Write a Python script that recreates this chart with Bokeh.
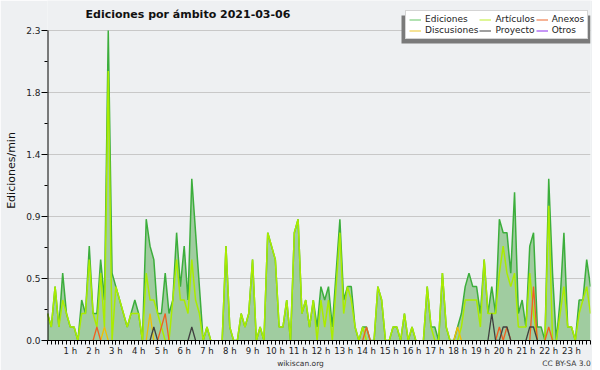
from bokeh.plotting import figure
from bokeh.models import (FixedTicker, Legend, LegendItem, Label, BoxAnnotation,
                          LinearAxis, CustomJSTickFormatter, PrintfTickFormatter)
from bokeh.embed import file_html
from bokeh.resources import INLINE

# ---- data: 10-minute slots (0..143) of 2021-03-06, edits per minute ----
hours = list(range(1, 24))
y_ticks = [0.0, 0.46, 0.92, 1.38, 1.84, 2.3]

ediciones = [
    0.2, 0.1, 0.4, 0.1, 0.5, 0.2,   # 0 h
    0.1, 0.1, 0.0, 0.3, 0.2, 0.7,   # 1 h
    0.2, 0.2, 0.6, 0.3, 2.3, 0.5,   # 2 h
    0.4, 0.3, 0.2, 0.1, 0.2, 0.3,   # 3 h
    0.2, 0.0, 0.9, 0.7, 0.6, 0.2,   # 4 h
    0.2, 0.5, 0.2, 0.3, 0.8, 0.4,   # 5 h
    0.7, 0.3, 1.2, 0.8, 0.4, 0.0,   # 6 h
    0.1, 0.0, 0.0, 0.0, 0.0, 0.7,   # 7 h
    0.1, 0.0, 0.0, 0.2, 0.1, 0.2,   # 8 h
    0.6, 0.0, 0.1, 0.0, 0.8, 0.7,   # 9 h
    0.6, 0.1, 0.1, 0.3, 0.0, 0.8,   # 10 h
    0.9, 0.2, 0.3, 0.1, 0.3, 0.1,   # 11 h
    0.4, 0.3, 0.4, 0.1, 0.5, 0.9,   # 12 h
    0.3, 0.4, 0.4, 0.1, 0.0, 0.1,   # 13 h
    0.1, 0.0, 0.0, 0.4, 0.3, 0.0,   # 14 h
    0.0, 0.1, 0.1, 0.0, 0.2, 0.0,   # 15 h
    0.1, 0.0, 0.0, 0.0, 0.4, 0.1,   # 16 h
    0.1, 0.0, 0.5, 0.1, 0.0, 0.0,   # 17 h
    0.1, 0.2, 0.4, 0.5, 0.4, 0.4,   # 18 h
    0.2, 0.6, 0.2, 0.4, 0.2, 0.9,   # 19 h
    0.8, 0.8, 0.5, 1.1, 0.2, 0.3,   # 20 h
    0.1, 0.7, 0.8, 0.1, 0.1, 0.0,   # 21 h
    1.2, 0.5, 0.0, 0.3, 0.8, 0.1,   # 22 h
    0.1, 0.0, 0.3, 0.3, 0.6, 0.4,   # 23 h
]
articulos = [
    0.2, 0.1, 0.4, 0.1, 0.3, 0.2,
    0.1, 0.1, 0.0, 0.2, 0.2, 0.6,
    0.2, 0.1, 0.5, 0.1, 2.0, 0.0,
    0.4, 0.3, 0.2, 0.1, 0.2, 0.2,
    0.2, 0.0, 0.5, 0.3, 0.3, 0.2,
    0.1, 0.0, 0.0, 0.3, 0.6, 0.3,
    0.3, 0.2, 0.6, 0.3, 0.2, 0.0,
    0.1, 0.0, 0.0, 0.0, 0.0, 0.7,
    0.1, 0.0, 0.0, 0.2, 0.1, 0.2,
    0.6, 0.0, 0.1, 0.0, 0.8, 0.7,
    0.6, 0.1, 0.1, 0.3, 0.0, 0.8,
    0.9, 0.2, 0.3, 0.1, 0.3, 0.0,
    0.3, 0.1, 0.3, 0.0, 0.4, 0.8,
    0.2, 0.4, 0.3, 0.1, 0.0, 0.1,
    0.0, 0.0, 0.0, 0.4, 0.3, 0.0,
    0.0, 0.1, 0.1, 0.0, 0.2, 0.0,
    0.1, 0.0, 0.0, 0.0, 0.4, 0.1,
    0.0, 0.0, 0.5, 0.1, 0.0, 0.0,
    0.0, 0.1, 0.3, 0.3, 0.3, 0.3,
    0.1, 0.6, 0.2, 0.2, 0.2, 0.5,
    0.7, 0.5, 0.4, 0.5, 0.1, 0.1,
    0.1, 0.5, 0.2, 0.0, 0.0, 0.0,
    1.0, 0.0, 0.0, 0.2, 0.4, 0.1,
    0.1, 0.0, 0.2, 0.3, 0.4, 0.2,
]
anexos = [0.0] * 144
for i, v in [(13, 0.1), (30, 0.1), (31, 0.2), (84, 0.1), (119, 0.1),
             (121, 0.1), (128, 0.4), (132, 0.1)]:
    anexos[i] = v
discusiones = [0.0] * 144
for i, v in [(15, 0.1), (27, 0.2), (108, 0.1)]:
    discusiones[i] = v
proyecto = [0.0] * 144
for i, v in [(28, 0.1), (38, 0.1), (117, 0.2), (120, 0.1), (121, 0.1),
             (127, 0.1), (128, 0.1)]:
    proyecto[i] = v
otros = [0.0] * 144

slots = list(range(144))


def masked(vals):
    out = []
    n = len(vals)
    for i, v in enumerate(vals):
        prev = vals[i - 1] if i > 0 else 0.0
        nxt = vals[i + 1] if i < n - 1 else 0.0
        out.append(float("nan") if (v == 0 and prev == 0 and nxt == 0) else v)
    return out


# layout constants (pixels)
FRAME_W, FRAME_H = 543, 340
BORDER_L, BORDER_R = 47, 2
TOP_PAD = 30                    # space above the 2.3 line inside the frame
y_top = y_ticks[-1] * FRAME_H / (FRAME_H - TOP_PAD)
X_END = 143


def px_to_x(px_from_left):
    return px_from_left / FRAME_W * X_END


BG = "#eef0f2"
p = figure(frame_width=FRAME_W, frame_height=FRAME_H,
           x_range=(0, X_END), y_range=(0, y_top),
           output_backend="svg", toolbar_location=None,
           min_border_left=BORDER_L, min_border_right=BORDER_R,
           min_border_top=0, min_border_bottom=0)
p.background_fill_color = BG
p.border_fill_color = BG
p.outline_line_color = None

# x axis
xa = p.xaxis[0]
xa.ticker = FixedTicker(ticks=[6 * h for h in hours], minor_ticks=slots)
xa.formatter = CustomJSTickFormatter(code="return (tick/6) + ' h';")
xa.major_tick_in = 0
xa.major_tick_out = 4
xa.minor_tick_in = 0
xa.minor_tick_out = 4
xa.major_label_standoff = 1
xa.major_label_text_font = "DejaVu Sans"
xa.major_label_text_font_size = "8.5px"
xa.major_label_text_color = "#222222"
xa.axis_line_color = "black"
xa.major_tick_line_color = "black"
xa.minor_tick_line_color = "black"

# footer line (site name and licence) as a tick-less axis below
foot = LinearAxis(ticker=FixedTicker(ticks=[px_to_x(253), px_to_x(519)]),
                  formatter=CustomJSTickFormatter(
                      code="return index == 0 ? 'wikiscan.org' : 'CC BY-SA 3.0';"),
                  axis_line_color=None, major_tick_line_color=None,
                  minor_tick_line_color=None, major_tick_out=0,
                  major_tick_in=0, minor_tick_out=0, minor_tick_in=0,
                  major_label_standoff=0, major_label_text_font="DejaVu Sans",
                  major_label_text_font_size="7.5px",
                  major_label_text_color="#333333")
p.add_layout(foot, "below")

# y axis (its line is drawn as a glyph so that it stops at 2.3)
ya = p.yaxis[0]
minor_y = [(y_ticks[k] + y_ticks[k + 1]) / 2 for k in range(len(y_ticks) - 1)]
ya.ticker = FixedTicker(ticks=y_ticks, minor_ticks=minor_y)
ya.formatter = PrintfTickFormatter(format="%.1f")
ya.major_tick_in = 0
ya.major_tick_out = 6
ya.minor_tick_in = 0
ya.minor_tick_out = 3
ya.major_label_standoff = 1
ya.major_label_text_font = "DejaVu Sans"
ya.major_label_text_font_size = "9px"
ya.major_label_text_color = "#222222"
ya.axis_label = "Ediciones/min"
ya.axis_label_text_font = "DejaVu Sans"
ya.axis_label_text_font_size = "11px"
ya.axis_label_text_font_style = "normal"
ya.axis_label_text_color = "#111111"
ya.axis_label_standoff = 5
ya.axis_line_color = None

p.xgrid.visible = False
p.ygrid.ticker = FixedTicker(ticks=y_ticks)
p.ygrid.grid_line_color = "#c8c8c8"

# data glyphs
p.varea(x=slots, y1=[0.0] * 144, y2=ediciones, fill_color="#a0cca0")
p.line(slots, masked(ediciones), line_color="#3cae3c", line_width=1.5)
p.line(slots, masked(articulos), line_color="#aaec00", line_width=1.5)
p.line(slots, masked(discusiones), line_color="#f0c000", line_width=1.3)
p.line(slots, masked(anexos), line_color="#f06020", line_width=1.3)
p.line(slots, masked(proyecto), line_color="#404040", line_width=1.3)
p.line(slots, masked(otros), line_color="#9040e0", line_width=1.3)
p.segment(x0=[0], y0=[0], x1=[0], y1=[y_ticks[-1]], line_color="black",
          line_width=2)

# title (inside the frame area, above the 2.3 line)
p.add_layout(Label(x=38, y=FRAME_H - 14, x_units="screen", y_units="screen",
                   text="Ediciones por ámbito  2021-03-06",
                   text_baseline="middle", text_font="DejaVu Sans",
                   text_font_size="11px", text_font_style="bold",
                   text_color="#111111"))

# legend with its shadow
p.add_layout(BoxAnnotation(left=354, right=FRAME_W, bottom=FRAME_H - 43,
                           top=FRAME_H - 15, left_units="screen",
                           right_units="screen", bottom_units="screen",
                           top_units="screen", fill_color="#7a7a7a",
                           fill_alpha=1.0, line_color=None))
names = ["Ediciones", "Artículos", "Anexos", "Discusiones", "Proyecto", "Otros"]
leg_colors = ["#7fcf7f", "#c8f050", "#f08050", "#f0d050", "#606060", "#a050f0"]
nan = float("nan")
items = []
for nm, c in zip(names, leg_colors):
    r = p.line([nan, nan], [nan, nan], line_color=c, line_width=1.2)
    items.append(LegendItem(label=nm, renderers=[r]))
legend = Legend(items=items, orientation="horizontal", ncols=3,
                location=(358, FRAME_H - 39), background_fill_color="white",
                background_fill_alpha=1.0, border_line_color="#aaaaaa",
                glyph_width=12, glyph_height=9, label_height=9,
                label_text_font="DejaVu Sans", label_text_font_size="9px",
                label_text_color="#222222", label_standoff=4,
                spacing=1, padding=3, margin=0)
p.add_layout(legend)

open("out.html", "w").write(file_html(p, INLINE))
